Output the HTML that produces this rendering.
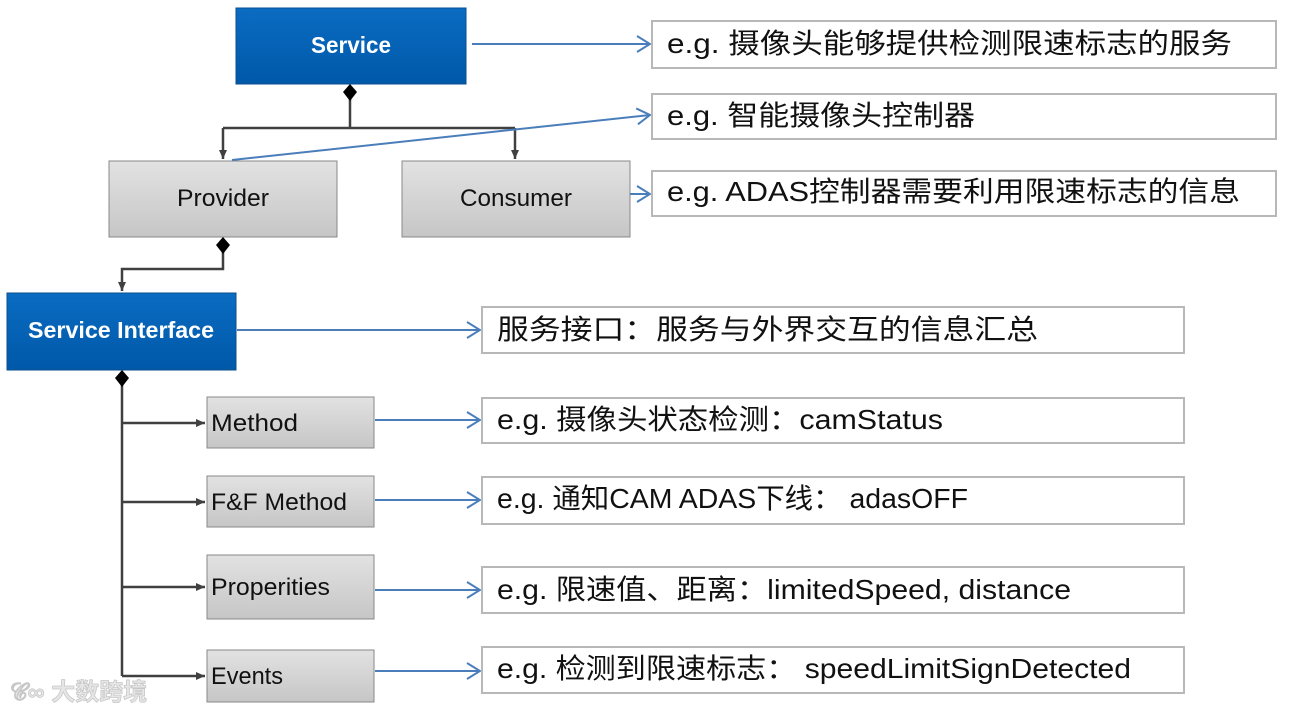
<!DOCTYPE html>
<html><head><meta charset="utf-8"><style>
html,body{margin:0;padding:0;background:#fff;width:1293px;height:713px;overflow:hidden}
text{font-family:"Liberation Sans","Noto Sans CJK SC",sans-serif}
</style></head><body>
<svg width="1293" height="713" viewBox="0 0 1293 713" xmlns="http://www.w3.org/2000/svg">
<defs>
<linearGradient id="blue" x1="0" y1="0" x2="0" y2="1"><stop offset="0" stop-color="#0a6cc2"/><stop offset="1" stop-color="#0058a8"/></linearGradient>
<linearGradient id="gray" x1="0" y1="0" x2="0" y2="1"><stop offset="0" stop-color="#e2e2e2"/><stop offset="1" stop-color="#c6c6c6"/></linearGradient>
<marker id="ah" markerWidth="10" markerHeight="10" refX="9" refY="5" orient="auto" markerUnits="userSpaceOnUse"><path d="M0,1 L9,5 L0,9 Z" fill="#404040"/></marker>
<marker id="bh" markerWidth="16" markerHeight="20" refX="15" refY="10" orient="auto" markerUnits="userSpaceOnUse"><path d="M2,2 L15,10 L2,18" fill="none" stroke="#4a7ebb" stroke-width="2"/></marker>
</defs>
<rect x="236" y="8" width="230" height="76" fill="url(#blue)" stroke="#0a4f90"/>
<text x="351" y="53" font-size="23" font-weight="bold" fill="#fff" text-anchor="middle" textLength="80" lengthAdjust="spacingAndGlyphs">Service</text>
<rect x="7" y="293" width="229" height="77" fill="url(#blue)" stroke="#0a4f90"/>
<text x="121" y="338" font-size="23" font-weight="bold" fill="#fff" text-anchor="middle" textLength="186" lengthAdjust="spacingAndGlyphs">Service Interface</text>
<rect x="109" y="161" width="228" height="76" fill="url(#gray)" stroke="#888"/>
<text x="223" y="206" font-size="24" fill="#111" text-anchor="middle" textLength="92" lengthAdjust="spacingAndGlyphs">Provider</text>
<rect x="402" y="161" width="228" height="76" fill="url(#gray)" stroke="#888"/>
<text x="516" y="206" font-size="24" fill="#111" text-anchor="middle" textLength="112" lengthAdjust="spacingAndGlyphs">Consumer</text>
<rect x="207" y="397" width="167" height="51" fill="url(#gray)" stroke="#888"/>
<text x="211" y="431" font-size="24" fill="#111" textLength="87" lengthAdjust="spacingAndGlyphs">Method</text>
<rect x="207" y="476" width="167" height="51" fill="url(#gray)" stroke="#888"/>
<text x="211" y="510" font-size="24" fill="#111" textLength="136" lengthAdjust="spacingAndGlyphs">F&amp;F Method</text>
<rect x="207" y="555" width="167" height="64" fill="url(#gray)" stroke="#888"/>
<text x="211" y="595" font-size="24" fill="#111" textLength="119" lengthAdjust="spacingAndGlyphs">Properities</text>
<rect x="207" y="650" width="167" height="52" fill="url(#gray)" stroke="#888"/>
<text x="211" y="684" font-size="24" fill="#111" textLength="72" lengthAdjust="spacingAndGlyphs">Events</text>
<g stroke="#404040" stroke-width="2.5" fill="none">
<path d="M350,96 V128 M223,128 H515"/>
<path d="M223,128 V159" marker-end="url(#ah)"/>
<path d="M515,128 V159" marker-end="url(#ah)"/>
<path d="M223,250 V269 H122 V291" marker-end="url(#ah)"/>
<path d="M122,380 V676"/>
<path d="M122,423 H205" marker-end="url(#ah)"/>
<path d="M122,502 H205" marker-end="url(#ah)"/>
<path d="M122,587 H205" marker-end="url(#ah)"/>
<path d="M122,676 H205" marker-end="url(#ah)"/>
</g>
<g fill="#000">
<path d="M350,84 L357,92 L350,101 L343,92 Z"/>
<path d="M223,237 L230,245 L223,254 L216,245 Z"/>
<path d="M122,370 L129,378 L122,387 L115,378 Z"/>
</g>
<g stroke="#4a7ebb" stroke-width="2" fill="none">
<path d="M472,44 H650" marker-end="url(#bh)"/>
<path d="M232,160 L650,115" marker-end="url(#bh)"/>
<path d="M630,194 H650" marker-end="url(#bh)"/>
<path d="M237,330 H480" marker-end="url(#bh)"/>
<path d="M375,420 H480" marker-end="url(#bh)"/>
<path d="M375,500 H480" marker-end="url(#bh)"/>
<path d="M375,590 H480" marker-end="url(#bh)"/>
<path d="M375,671 H480" marker-end="url(#bh)"/>
</g>
<g fill="#fff" stroke="#b8b8b8" stroke-width="2">
<rect x="652" y="21" width="624" height="47"/>
<rect x="652" y="94" width="624" height="45"/>
<rect x="652" y="171" width="624" height="45"/>
<rect x="482" y="307" width="702" height="46"/>
<rect x="482" y="398" width="702" height="45"/>
<rect x="482" y="477" width="702" height="47"/>
<rect x="482" y="567" width="702" height="46"/>
<rect x="482" y="647" width="702" height="46"/>
</g>
<g font-size="28" fill="#111">
<text x="667" y="53" textLength="565" lengthAdjust="spacingAndGlyphs">e.g. 摄像头能够提供检测限速标志的服务</text>
<text x="667" y="125" textLength="308" lengthAdjust="spacingAndGlyphs">e.g. 智能摄像头控制器</text>
<text x="667" y="201" textLength="573" lengthAdjust="spacingAndGlyphs">e.g. ADAS控制器需要利用限速标志的信息</text>
<text x="497" y="339" textLength="541" lengthAdjust="spacingAndGlyphs">服务接口：服务与外界交互的信息汇总</text>
<text x="497" y="429" textLength="446" lengthAdjust="spacingAndGlyphs">e.g. 摄像头状态检测：camStatus</text>
<text x="497" y="508" textLength="471" lengthAdjust="spacingAndGlyphs">e.g. 通知CAM ADAS下线： adasOFF</text>
<text x="497" y="599" textLength="574" lengthAdjust="spacingAndGlyphs">e.g. 限速值、距离：limitedSpeed, distance</text>
<text x="497" y="678" textLength="634" lengthAdjust="spacingAndGlyphs">e.g. 检测到限速标志： speedLimitSignDetected</text>
</g>
<text x="10" y="700" font-size="24" font-weight="bold" fill="#e6e6e6" stroke="#c8c8c8" stroke-width="0.8">𝒞∞ 大数跨境</text>
</svg>
</body></html>
